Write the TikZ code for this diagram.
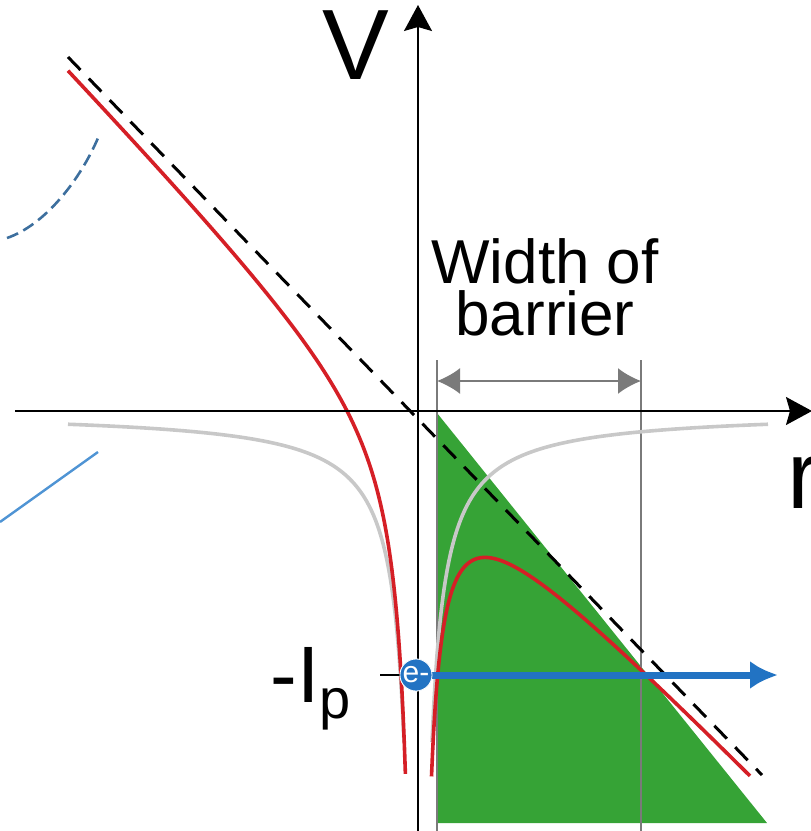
\documentclass[tikz,border=0pt]{standalone}
\usepackage{fontspec}
\setmainfont{Liberation Sans}
\usetikzlibrary{arrows.meta}
\definecolor{barriergreen}{HTML}{36A336}
\definecolor{potred}{HTML}{D51F26}
\definecolor{coulgray}{HTML}{C8C8C8}
\definecolor{linegray}{HTML}{7A7A7A}
\definecolor{eblue}{HTML}{2273C3}
\definecolor{dashblue}{HTML}{3D6F9E}
\definecolor{lineblue}{HTML}{4F94D4}
\tikzset{
  axis/.style={black,line width=0.8pt},
  gridgray/.style={linegray,line width=1pt},
  electron/.style={circle,fill=eblue,draw=white,line width=0.4pt,inner sep=0pt,
    minimum size=16pt,text=white,font=\fontsize{15}{15}\selectfont}
}
\begin{document}
\begin{tikzpicture}[x=0.5pt,y=-0.5pt]
\useasboundingbox (0,0) rectangle (810,831);
\fill[barriergreen] (437,413) -- (767,823) -- (437,823) -- cycle;
\coordinate (wl) at (437,381);
\coordinate (wr) at (641,381);
\coordinate (wlt) at (437,360);
\coordinate (wlb) at (437,831);
\coordinate (wrt) at (641,360);
\coordinate (wrb) at (641,831);
\draw[gridgray] (wlt) -- (wlb);
\draw[gridgray] (wrt) -- (wrb);
\draw[gridgray,{Latex[length=11.5pt,width=13pt]}-{Latex[length=11.5pt,width=13pt]}] (wl) -- (wr);
\draw[coulgray,line width=1.8pt] plot[domain=-350:-14,samples=200] ({418+\x},{411-4637/\x});
\draw[coulgray,line width=1.8pt] plot[domain=14:350,samples=200] ({418+\x},{411+4637/\x});
\draw[black,line width=1.5pt,dash pattern=on 9pt off 6pt] (68,57) -- (762,775);
\draw[potred,line width=1.8pt] plot[domain=-350:-12.6,samples=300] ({418+\x},{419+1.033*\x-4637/\x});
\draw[potred,line width=1.8pt] plot[domain=13.5:332,samples=300] ({418+\x},{419+1.033*\x+4637/\x});
\coordinate (xs) at (15,411);
\coordinate (xe) at (812,411);
\coordinate (ys) at (418,831);
\coordinate (ye) at (418,5);
\draw[axis,-{Stealth[length=13pt,width=14pt,inset=2pt]}] (xs) -- (xe);
\draw[axis,-{Stealth[length=13pt,width=14pt,inset=2pt]}] (ys) -- (ye);
\node (V) at (356,45) {\fontsize{50}{50}\selectfont V};
\node[anchor=base west] (r) at (780,508) {\fontsize{48}{48}\selectfont r};
\node[align=center,font=\fontsize{31}{26}\selectfont] (width) at (545,287) {Width of\\barrier};
\draw[dashblue,line width=1.3pt,dash pattern=on 6pt off 3pt] (7,238) .. controls (45,225) and (80,180) .. (98,138);
\draw[lineblue,line width=1.2pt] (0,522) -- (98,452);
\coordinate (tick) at (380,675);
\coordinate (tip) at (778,675);
\node[electron] (e) at (416,675) {e-};
\draw[axis] (tick) -- (e);
\draw[eblue,line width=3.5pt,-{Latex[length=14pt,width=14pt]}] (e.east) -- (tip);
\node[electron] at (e) {e-};
\node[anchor=base east] (ip) at (358,702) {\fontsize{40}{40}\selectfont -I\raisebox{-8pt}{\fontsize{28}{28}\selectfont p}};
\end{tikzpicture}
\end{document}
